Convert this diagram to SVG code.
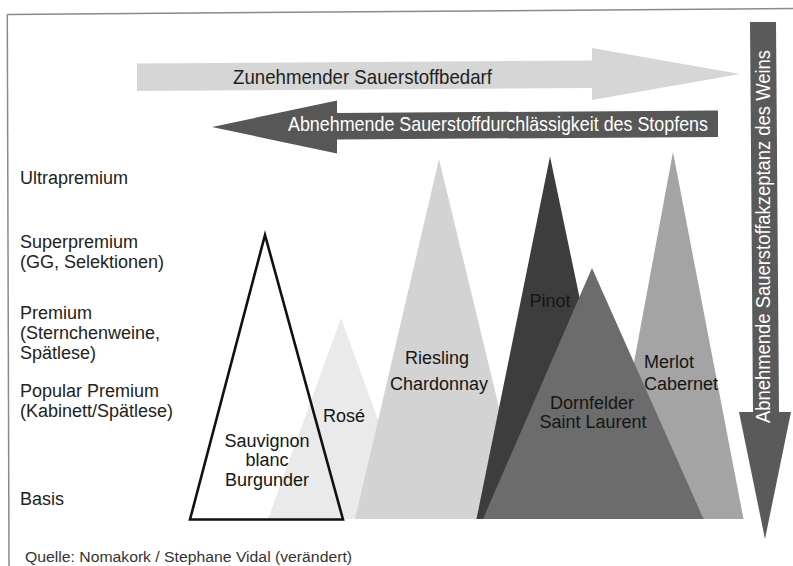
<svg xmlns="http://www.w3.org/2000/svg" width="793" height="566" viewBox="0 0 793 566">
<style>
  .lbl { font-family: "Liberation Sans", Arial, sans-serif; font-size: 18px; fill: #222; }
  .tri { font-family: "Liberation Sans", Arial, sans-serif; font-size: 18px; fill: #151515; }
  .arrtxt { font-family: "Liberation Sans", Arial, sans-serif; font-size: 21px; }
  .src { font-family: "Liberation Sans", Arial, sans-serif; font-size: 14px; fill: #333; }
</style>
<rect width="793" height="566" fill="#ffffff"/>
<g id="frame" stroke="#8a8a8a" stroke-width="1.5" fill="none">
  <line x1="7.3" y1="14.5" x2="793" y2="8.5"/>
  <line x1="7.3" y1="14.5" x2="9" y2="566"/>
</g>

<g id="levels">
  <text class="lbl" x="20" y="184">Ultrapremium</text>
  <text class="lbl" x="20" y="248">Superpremium</text>
  <text class="lbl" x="20" y="268">(GG, Selektionen)</text>
  <text class="lbl" x="20" y="319">Premium</text>
  <text class="lbl" x="20" y="339">(Sternchenweine,</text>
  <text class="lbl" x="20" y="359">Spätlese)</text>
  <text class="lbl" x="20" y="397">Popular Premium</text>
  <text class="lbl" x="20" y="417">(Kabinett/Spätlese)</text>
  <text class="lbl" x="20" y="505">Basis</text>
</g>

<g id="rose">
  <polygon points="341,318 268,519 414,519" fill="#eaeaea"/>
  <text class="tri" x="323" y="422">Rosé</text>
</g>
<g id="sauvignon">
  <polygon points="265,235 190,519.5 343,519.5" fill="none" stroke="#111" stroke-width="2.6"/>
  <text class="tri" text-anchor="middle" x="267" y="447">Sauvignon</text>
  <text class="tri" text-anchor="middle" x="267" y="466">blanc</text>
  <text class="tri" text-anchor="middle" x="267" y="486">Burgunder</text>
</g>
<g id="riesling">
  <polygon points="439,159 355,519 526,519" fill="#d3d3d3"/>
  <text class="tri" text-anchor="middle" x="437" y="364">Riesling</text>
  <text class="tri" text-anchor="middle" x="439" y="390">Chardonnay</text>
</g>
<g id="merlot">
  <polygon points="673,152 605,519 743.5,519" fill="#a4a4a4"/>
  <text class="tri" x="644" y="368">Merlot</text>
  <text class="tri" x="644" y="390">Cabernet</text>
</g>
<g id="pinot">
  <polygon points="550,156.5 476.5,519 626,519" fill="#3d3d3d"/>
  <text class="tri" text-anchor="middle" x="550" y="307">Pinot</text>
</g>
<g id="dornfelder">
  <polygon points="592,268 483,519 703.5,519" fill="#6c6c6c"/>
  <text class="tri" text-anchor="middle" font-size="17.5" x="592" y="409">Dornfelder</text>
  <text class="tri" text-anchor="middle" font-size="17.5" x="593" y="428">Saint Laurent</text>
</g>

<g id="arrows">
  <g id="arrow-sauerstoffbedarf">
    <polygon points="137,63.5 592,60.5 592,48 740,74 592,100 592,88 137,91" fill="#d6d6d6"/>
    <text class="arrtxt" x="233" y="84" fill="#1e1e1e" textLength="259" lengthAdjust="spacingAndGlyphs">Zunehmender Sauerstoffbedarf</text>
  </g>
  <g id="arrow-stopfen">
    <polygon points="212,127 337,100.5 337,113 718,110.5 718,137 337,139.5 337,153.5" fill="#575757"/>
    <text class="arrtxt" x="288" y="131" fill="#ffffff" textLength="420" lengthAdjust="spacingAndGlyphs">Abnehmende Sauerstoffdurchlässigkeit des Stopfens</text>
  </g>
  <g id="arrow-akzeptanz">
    <polygon points="750,22 776,22 779,412 791,412 765,539 739,412 753,412" fill="#5a5a5a"/>
    <text class="arrtxt" font-size="19" fill="#ffffff" transform="translate(770,423) rotate(-90)" textLength="373" lengthAdjust="spacingAndGlyphs">Abnehmende Sauerstoffakzeptanz des Weins</text>
  </g>
</g>

<text class="src" x="25" y="562" textLength="327" lengthAdjust="spacingAndGlyphs">Quelle: Nomakork / Stephane Vidal (verändert)</text>
</svg>
